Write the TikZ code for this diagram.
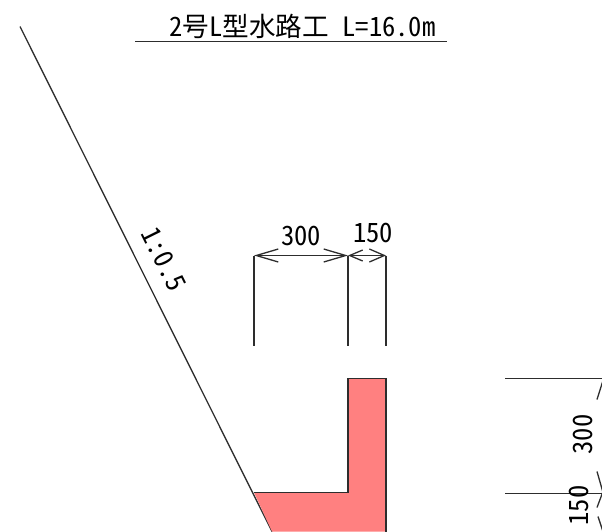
\documentclass[tikz,border=0pt]{standalone}
\usepackage{fontspec}
\usetikzlibrary{arrows.meta}
\newfontfamily\cjk[RawFeature=+hwid]{Noto Sans CJK JP}
\definecolor{concrete}{RGB}{255,128,128}
\definecolor{inkline}{RGB}{45,45,45}
\tikzset{
  plan/.style={draw=inkline,line width=1.3pt},
  label/.style={inner sep=0pt,text=black,font=\cjk\fontsize{26.6}{26.6}\selectfont},
  dimlong/.style={plan,{Straight Barb[length=22pt,width=13pt]}-{Straight Barb[length=22pt,width=13pt]}},
  dimshort/.style={plan,{Straight Barb[length=13pt,width=11pt]}-{Straight Barb[length=15pt,width=13pt]}}
}
\begin{document}
\begin{tikzpicture}[x=1pt,y=-1pt]
  \useasboundingbox (0,0.5) rectangle (602,531.5);

  \node[label] (title) at (302.5,26.5) {2号L型水路工 L=16.0m};
  \draw[plan] (135,42) -- (447,42);

  % slope
  \coordinate (slopetop) at (20,27);
  \coordinate (slopefoot) at (272,532);
  \draw[plan] (slopetop) -- (slopefoot);
  \node[label,rotate=-63.5] (slope) at (164,260) {1:0.5};

  % wall section
  \fill[concrete] (348,379) -- (386,379) -- (386,532) -- (272,532) -- (254,493) -- (348,493) -- cycle;
  \draw[plan] (254,493) -- (348,493) -- (348,379) -- (386,379) -- (386,532);

  % dimensions on top
  \coordinate (dima) at (254,256);
  \coordinate (dimb) at (348,256);
  \coordinate (dimc) at (386,256);
  \foreach \x in {254,348,386}
    \draw[plan] (\x,256) -- (\x,346);
  \draw[dimlong] (dima) -- (dimb);
  \draw[dimshort] (dimb) -- (dimc);
  \node[label] (wtop) at (301,236) {300};
  \node[label] (wwall) at (373,233) {150};

  % dimensions on the right
  \draw[plan] (505,379) -- (603,379);
  \draw[plan] (505,494) -- (603,494);
  \node[label,rotate=90] (hwall) at (583,435) {300};
  \node[label,rotate=90] (hbase) at (579,506) {150};

  % ticks at the edge
  \draw[plan] (597,400) -- (603,381);
  \draw[plan] (597,472) -- (603,493);
  \draw[plan] (597,508) -- (603,492);
  \draw[plan] (598,517) -- (603,532);
\end{tikzpicture}
\end{document}
